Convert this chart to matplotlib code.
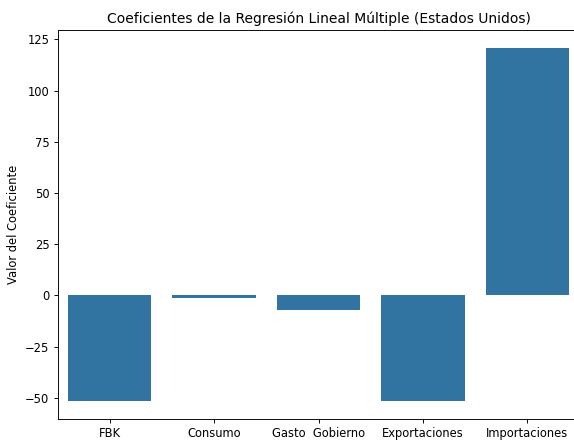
import matplotlib
matplotlib.use("Agg")
import matplotlib.pyplot as plt
import seaborn as sns
import pandas as pd

variables = ["FBK", "Consumo", "Gasto  Gobierno", "Exportaciones", "Importaciones"]
coeficientes = [-51.6, -1.1, -7.0, -51.7, 121.0]

df = pd.DataFrame({"Variable": variables, "Coeficiente": coeficientes})

DPI = 83
fig = plt.figure(figsize=(574 / DPI, 440 / DPI), dpi=DPI)
ax = fig.add_axes([0.1002, 0.0477, 0.9094, 0.8841])
sns.barplot(data=df, x="Variable", y="Coeficiente", ax=ax)
ax.set_xlim(-0.5, 4.5)
ax.spines["right"].set_visible(False)
ax.set_title("Coeficientes de la Regresión Lineal Múltiple (Estados Unidos)")
ax.set_xlabel("")
ax.set_ylabel("Valor del Coeficiente")
ax.set_yticks([-50, -25, 0, 25, 50, 75, 100, 125])
fig.savefig("out.png", dpi=DPI)
